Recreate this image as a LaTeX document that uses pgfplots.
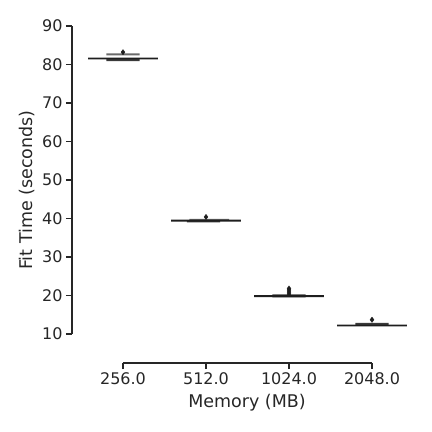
\documentclass[border=0pt]{standalone}
\usepackage{pgfplots}
\pgfplotsset{compat=1.18}
\usepackage{fontspec}
\setmainfont{DejaVu Sans}
\definecolor{axc}{HTML}{262626}
\definecolor{dk}{HTML}{1E1E1E}
\definecolor{md}{HTML}{3A3A3A}
\definecolor{lt}{HTML}{6A6A6A}
\begin{document}
\begin{tikzpicture}
\path[use as bounding box] (0,0) rectangle (432pt,432pt);
\begin{axis}[
  at={(123pt,98pt)}, anchor=south west, scale only axis,
  width=249pt, height=308pt,
  xmin=0, xmax=3, ymin=10, ymax=90, clip=false,
  axis lines=left, axis line style={-, axc, line width=1.1pt},
  axis x line shift=29pt, axis y line shift=51pt,
  xtick={0,1,2,3}, xticklabels={256.0,512.0,1024.0,2048.0},
  ytick={10,20,...,90},
  tick align=outside, major tick length=6pt,
  tick style={axc, line width=1.1pt},
  ticklabel style={font=\fontsize{16}{19}\selectfont, text=axc},
  yticklabel style={/pgf/number format/assume math mode=true},
  xlabel={Memory (MB)}, ylabel={Fit Time (seconds)},
  label style={font=\fontsize{17.5}{20}\selectfont, text=axc},
  xlabel style={at={(rel axis cs:0.498,-0.224)}, anchor=center},
  ylabel style={at={(rel axis cs:-0.386,0.4675)}, anchor=center},
]
% 256
\addplot[fill=lt, draw=none] coordinates {(-0.2,82.4)(0.2,82.4)(0.2,82.9)(-0.2,82.9)(-0.2,82.4)};
\addplot[fill=md, draw=none] coordinates {(-0.2,80.9)(0.2,80.9)(0.2,81.4)(-0.2,81.4)(-0.2,80.9)};
\addplot[fill=dk, draw=none] coordinates {(-0.42,81.3)(0.42,81.3)(0.42,81.8)(-0.42,81.8)(-0.42,81.3)};
% 512
\addplot[fill=lt, draw=none] coordinates {(0.8,39.6)(1.28,39.6)(1.28,39.9)(0.8,39.9)(0.8,39.6)};
\addplot[fill=md, draw=none] coordinates {(0.77,39.0)(1.17,39.0)(1.17,39.4)(0.77,39.4)(0.77,39.0)};
\addplot[fill=dk, draw=none] coordinates {(0.58,39.2)(1.42,39.2)(1.42,39.7)(0.58,39.7)(0.58,39.2)};
% 1024
\addplot[fill=md, draw=none] coordinates {(1.8,19.5)(2.2,19.5)(2.2,20.3)(1.8,20.3)(1.8,19.5)};
\addplot[fill=dk, draw=none] coordinates {(1.58,19.6)(2.42,19.6)(2.42,20.1)(1.58,20.1)(1.58,19.6)};
% 2048
\addplot[fill=md, draw=none] coordinates {(2.8,12.2)(3.2,12.2)(3.2,12.9)(2.8,12.9)(2.8,12.2)};
\addplot[fill=dk, draw=none] coordinates {(2.58,12.0)(3.42,12.0)(3.42,12.45)(2.58,12.45)(2.58,12.0)};
% outliers
\addplot[only marks, mark=diamond*, mark size=2.6pt, mark options={fill=dk, draw=dk}] coordinates {
 (0,83.2) (1,40.4) (2,20.4) (2,20.9) (2,21.4) (2,21.8) (3,13.7)};
\end{axis}
\end{tikzpicture}
\end{document}
